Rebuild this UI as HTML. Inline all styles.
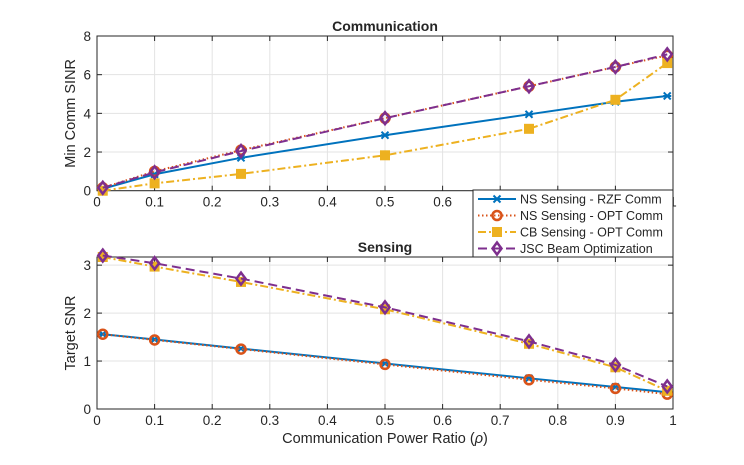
<!DOCTYPE html>
<html><head><meta charset="utf-8"><style>
body{margin:0;background:#fff}
svg text{font-family:"Liberation Sans",Arial,sans-serif;fill:#262626}
</style></head><body>
<svg id="c" width="744" height="460" xmlns="http://www.w3.org/2000/svg"></svg>
<script>
const xs=[0.01,0.1,0.25,0.5,0.75,0.9,0.99];
const xTicks=[0,0.1,0.2,0.3,0.4,0.5,0.6,0.7,0.8,0.9,1];
const topTicks=[0,2,4,6,8];
const botTicks=[0,1,2,3];
const commRZF=[0.1,0.85,1.7,2.87,3.95,4.6,4.9];
const commOPT=[0.15,1.0,2.1,3.75,5.4,6.4,7.0];
const commCB=[0.0,0.38,0.87,1.83,3.2,4.7,6.6];
const commJSC=[0.15,0.95,2.05,3.75,5.4,6.4,7.05];
const sensRZF=[1.56,1.45,1.26,0.95,0.64,0.46,0.35];
const sensOPT=[1.56,1.44,1.25,0.93,0.61,0.43,0.31];
const sensCB=[3.17,2.97,2.65,2.08,1.36,0.87,0.38];
const sensJSC=[3.2,3.04,2.72,2.12,1.41,0.92,0.47];
const labels=["NS Sensing - RZF Comm","NS Sensing - OPT Comm","CB Sensing - OPT Comm","JSC Beam Optimization"];
const svg=document.getElementById('c');const NS='http://www.w3.org/2000/svg';
function el(t,a,p){const e=document.createElementNS(NS,t);for(const k in a)e.setAttribute(k,a[k]);(p||svg).appendChild(e);return e;}
const X0=97,X1=673;
const styles=[{c:'#0072BD',d:'',m:'x',w:2},{c:'#D95319',d:'1.5 2.5',m:'o',w:2},{c:'#EDB120',d:'8 3 2 3',m:'s',w:2},{c:'#7E2F8E',d:'9 5',m:'d',w:2}];
function marker(g,s,x,y){
 if(s.m==='x'){el('path',{d:`M${x-3.5},${y-3.5}L${x+3.5},${y+3.5}M${x-3.5},${y+3.5}L${x+3.5},${y-3.5}M${x-4},${y}L${x+4},${y}`,stroke:s.c,'stroke-width':2},g);}
 else if(s.m==='o'){el('circle',{cx:x,cy:y,r:4.5,fill:'none',stroke:s.c,'stroke-width':2.5},g);}
 else if(s.m==='s'){el('rect',{x:x-4,y:y-4,width:8,height:8,fill:s.c,stroke:s.c,'stroke-width':2},g);}
 else {el('path',{d:`M${x},${y-6}L${x+4.5},${y}L${x},${y+6}L${x-4.5},${y}Z`,fill:'none',stroke:s.c,'stroke-width':2.5},g);}
}
function axes(name,top,bot,ymax,yt,series,title,ylabel){
 const sx=v=>X0+(X1-X0)*v, sy=v=>bot-(bot-top)*v/ymax;
 const g=el('g',{});
 xTicks.forEach(t=>{el('line',{x1:sx(t),x2:sx(t),y1:top,y2:bot,stroke:'#e3e3e3','stroke-width':1},g);});
 yt.forEach(t=>{el('line',{x1:X0,x2:X1,y1:sy(t),y2:sy(t),stroke:'#e3e3e3','stroke-width':1},g);});
 el('rect',{x:X0,y:top,width:X1-X0,height:bot-top,fill:'none',stroke:'#262626','stroke-width':1},g);
 xTicks.forEach(t=>{el('line',{x1:sx(t),x2:sx(t),y1:bot,y2:bot-5,stroke:'#262626'},g);el('line',{x1:sx(t),x2:sx(t),y1:top,y2:top+5,stroke:'#262626'},g);
  const tx=el('text',{x:sx(t),y:bot+16,'text-anchor':'middle','font-size':13.5},g);tx.textContent=String(t);});
 yt.forEach(t=>{el('line',{x1:X0,x2:X0+5,y1:sy(t),y2:sy(t),stroke:'#262626'},g);el('line',{x1:X1,x2:X1-5,y1:sy(t),y2:sy(t),stroke:'#262626'},g);
  const tx=el('text',{x:X0-6,y:sy(t)+5,'text-anchor':'end','font-size':13.5},g);tx.textContent=t;});
 series.forEach((d,i)=>{const s=styles[i];
  const sg=el('g',{},g);
  el('polyline',{points:d.map((v,j)=>sx(xs[j])+','+sy(v)).join(' '),fill:'none',stroke:s.c,'stroke-width':s.w,'stroke-dasharray':s.d},sg);
  d.forEach((v,j)=>marker(sg,s,sx(xs[j]),sy(v)));});
 const tt=el('text',{x:(X0+X1)/2,y:top-5,'text-anchor':'middle','font-size':14,'font-weight':'bold',fill:'#000'});tt.textContent=title;
 
 const yl=el('text',{x:0,y:0,'text-anchor':'middle','font-size':14.5,transform:`translate(${X0-22},${(top+bot)/2}) rotate(-90)`});yl.textContent=ylabel;
 
}
axes('comm-axes',36,190.7,8,topTicks,[commRZF,commOPT,commCB,commJSC],'Communication','Min Comm SINR');
axes('sens-axes',257,409,3.17,botTicks,[sensRZF,sensOPT,sensCB,sensJSC],'Sensing','Target SNR');
const xl=el('text',{x:385,y:443,'text-anchor':'middle','font-size':14.5});xl.innerHTML='Communication Power Ratio (<tspan font-style="italic">ρ</tspan>)';

const lg=el('g',{});
el('rect',{x:473,y:190,width:200,height:67,fill:'#fff',stroke:'#262626'},lg);
labels.forEach((l,i)=>{const s=styles[i],y=199+i*16.5;
 const eg=el('g',{},lg);
 el('line',{x1:478,x2:516,y1:y,y2:y,stroke:s.c,'stroke-width':2,'stroke-dasharray':s.d},eg);
 marker(eg,s,497,y);
 const t=el('text',{x:520,y:y+4.5,'font-size':12.5,fill:'#000'},eg);t.textContent=l;});
</script>
</body></html>
